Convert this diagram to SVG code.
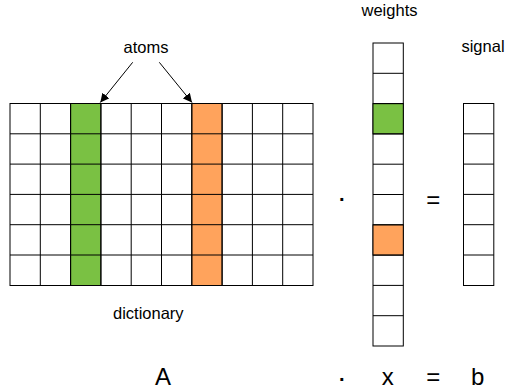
<svg xmlns="http://www.w3.org/2000/svg" width="509" height="389" viewBox="0 0 509 389">
  <defs>
    <style>
      .box{fill:#fff;stroke:#000;stroke-width:1}
      .grid{fill:none;stroke:#000;stroke-width:1}
      .g{fill:#7AC143;stroke:#000;stroke-width:1}
      .o{fill:#FFA35C;stroke:#000;stroke-width:1}
      .t{font-family:"Liberation Sans",Arial,Helvetica,sans-serif;fill:#000;text-anchor:middle}
      .lbl{font-size:16.5px}
      .dot{font-size:20px;font-weight:bold}
      .big{font-size:24px}
      .conn{stroke:#000;stroke-width:1;fill:none}
    </style>
    <marker id="arr" viewBox="0 0 10 10" refX="10" refY="5" markerWidth="9" markerHeight="9" markerUnits="userSpaceOnUse" orient="auto">
      <path d="M0,0 L10,5 L0,10 Z" fill="#000"/>
    </marker>
  </defs>
  <rect width="509" height="389" fill="#fff"/>

  <g id="dictionary">
    <rect class="box" x="10" y="103.5" width="303" height="182"/>
    <rect class="g" x="70.6" y="103.5" width="30.3" height="182"/>
    <rect class="o" x="191.8" y="103.5" width="30.3" height="182"/>
    <path class="grid" d="M40.3,103.5V285.5 M70.6,103.5V285.5 M100.9,103.5V285.5 M131.2,103.5V285.5 M161.5,103.5V285.5 M191.8,103.5V285.5 M222.1,103.5V285.5 M252.4,103.5V285.5 M282.7,103.5V285.5 M10,133.8H313 M10,164.1H313 M10,194.4H313 M10,224.7H313 M10,255H313"/>
  </g>

  <g id="weights">
    <rect class="box" x="373" y="43" width="30.3" height="303"/>
    <rect class="g" x="373" y="103.6" width="30.3" height="30.3"/>
    <rect class="o" x="373" y="224.8" width="30.3" height="30.3"/>
    <path class="grid" d="M373,73.3H403.3 M373,103.6H403.3 M373,133.9H403.3 M373,164.2H403.3 M373,194.5H403.3 M373,224.8H403.3 M373,255.1H403.3 M373,285.4H403.3 M373,315.7H403.3"/>
  </g>

  <g id="signal">
    <rect class="box" x="463.5" y="103.5" width="30.3" height="182"/>
    <path class="grid" d="M463.5,133.8H493.8 M463.5,164.1H493.8 M463.5,194.4H493.8 M463.5,224.7H493.8 M463.5,255H493.8"/>
  </g>

  <g id="connectors">
    <line class="conn" x1="132.7" y1="62.3" x2="100.3" y2="102.5" marker-end="url(#arr)"/>
    <line class="conn" x1="159.3" y1="62.3" x2="192" y2="102.5" marker-end="url(#arr)"/>
  </g>

  <g id="labels">
    <text class="t lbl" x="389.5" y="16">weights</text>
    <text class="t lbl" x="483" y="52">signal</text>
    <text class="t lbl" x="146" y="53">atoms</text>
    <text class="t lbl" x="148.3" y="319">dictionary</text>
    <text class="t dot" x="342.3" y="205.5">·</text>
    <text class="t big" x="433.3" y="207.5">=</text>
    <text class="t big" x="163" y="385">A</text>
    <text class="t dot" x="342.3" y="385.5">·</text>
    <text class="t big" x="387.8" y="385">x</text>
    <text class="t big" x="433.3" y="385">=</text>
    <text class="t big" x="477.8" y="385">b</text>
  </g>
</svg>
